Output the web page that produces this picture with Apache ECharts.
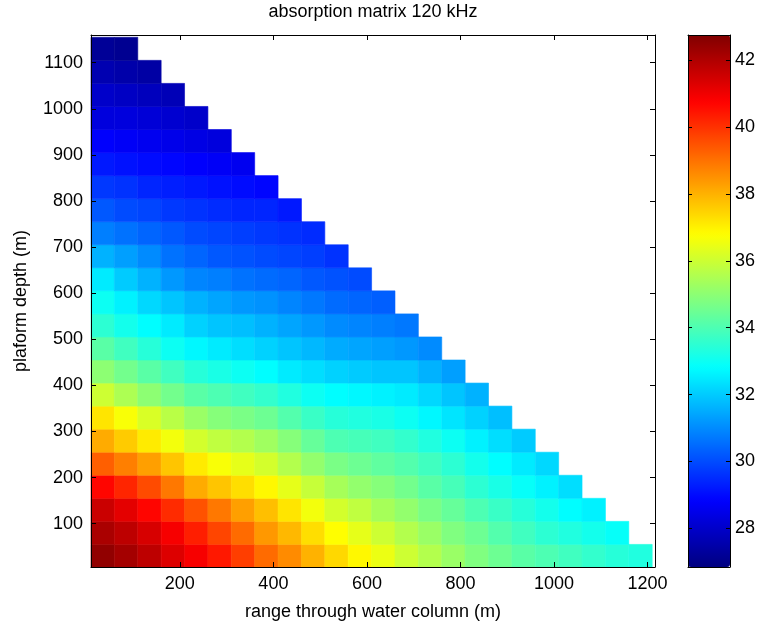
<!DOCTYPE html>
<html>
<head>
<meta charset="utf-8">
<script src="https://cdn.jsdelivr.net/npm/echarts@6/dist/echarts.min.js"></script>
<style>
  html, body { margin: 0; padding: 0; background: #fff; }
  #main { width: 758px; height: 627px; }
</style>
</head>
<body>
<div id="main"></div>
<script>
// cell centres (m)
const rangeCentres = [35, 85, 135, 185, 235, 285, 335, 385, 435, 485, 535, 585,
  635, 685, 735, 785, 835, 885, 935, 985, 1035, 1085, 1135, 1185];
const depthCentres = [30, 80, 130, 180, 230, 280, 330, 380, 430, 480, 530, 580,
  630, 680, 730, 780, 830, 880, 930, 980, 1030, 1080, 1130];

// absorption, one row per depth (shallow -> deep), starting at the first range cell
const absorption = [
  [42.5, 42.2, 41.8, 41.3, 40.9, 40.4, 39.8, 39.1, 38.6, 38.0, 37.4, 36.9, 36.5, 36.0, 35.6, 35.2, 34.8, 34.5, 34.2, 34.0, 33.8, 33.6, 33.4, 33.3],
  [42.1, 41.8, 41.4, 40.9, 40.3, 39.7, 39.1, 38.4, 37.9, 37.3, 36.8, 36.4, 36.0, 35.6, 35.2, 34.8, 34.5, 34.1, 33.8, 33.5, 33.3, 33.1, 32.9],
  [41.6, 41.2, 40.7, 40.1, 39.5, 38.9, 38.3, 37.8, 37.2, 36.6, 36.1, 35.8, 35.4, 35.1, 34.7, 34.4, 34.0, 33.7, 33.4, 33.1, 32.8, 32.6],
  [40.7, 40.2, 39.6, 38.9, 38.1, 37.7, 37.3, 36.9, 36.4, 35.9, 35.4, 35.1, 34.9, 34.6, 34.2, 33.9, 33.5, 33.2, 32.9, 32.6, 32.3],
  [39.3, 38.8, 38.3, 37.7, 37.1, 36.7, 36.4, 36.1, 35.6, 35.1, 34.7, 34.5, 34.3, 34.1, 33.8, 33.5, 33.1, 32.8, 32.5, 32.2],
  [38.1, 37.6, 37.1, 36.6, 36.1, 35.8, 35.6, 35.3, 34.9, 34.4, 34.0, 33.9, 33.8, 33.6, 33.3, 33.0, 32.6, 32.3, 32.0],
  [37.2, 36.7, 36.2, 35.7, 35.2, 34.9, 34.7, 34.5, 34.1, 33.7, 33.4, 33.3, 33.2, 33.0, 32.7, 32.4, 32.1, 31.8],
  [36.0, 35.5, 35.0, 34.6, 34.2, 34.0, 33.8, 33.6, 33.3, 33.0, 32.8, 32.7, 32.6, 32.5, 32.2, 31.9, 31.6],
  [35.0, 34.6, 34.2, 33.8, 33.4, 33.2, 33.0, 32.8, 32.5, 32.3, 32.1, 32.0, 31.9, 31.9, 31.6, 31.3],
  [34.2, 33.8, 33.4, 33.0, 32.7, 32.5, 32.3, 32.1, 31.9, 31.7, 31.5, 31.4, 31.3, 31.2, 31.0],
  [33.5, 33.1, 32.8, 32.5, 32.1, 31.9, 31.8, 31.6, 31.4, 31.2, 31.0, 30.9, 30.8, 30.7],
  [33.0, 32.6, 32.2, 31.9, 31.6, 31.4, 31.2, 31.1, 30.9, 30.7, 30.5, 30.4, 30.3],
  [32.5, 32.0, 31.6, 31.2, 30.9, 30.8, 30.6, 30.5, 30.4, 30.2, 30.1, 30.0],
  [31.6, 31.3, 31.0, 30.6, 30.4, 30.2, 30.1, 30.0, 29.9, 29.8, 29.6],
  [30.8, 30.6, 30.4, 30.2, 30.0, 29.9, 29.8, 29.7, 29.6, 29.5],
  [30.2, 30.0, 29.9, 29.7, 29.6, 29.5, 29.4, 29.4, 29.2],
  [29.7, 29.6, 29.4, 29.3, 29.2, 29.1, 29.0, 28.9],
  [29.2, 29.1, 29.0, 28.9, 28.8, 28.7, 28.6],
  [28.8, 28.7, 28.6, 28.5, 28.4, 28.3],
  [28.3, 28.3, 28.2, 28.1, 28.0],
  [28.0, 27.9, 27.8, 27.7],
  [27.6, 27.5, 27.4],
  [27.2, 27.1]
];

const xTicks = [200, 400, 600, 800, 1000, 1200];
const yTicks = [100, 200, 300, 400, 500, 600, 700, 800, 900, 1000, 1100];
const cbTicks = [28, 30, 32, 34, 36, 38, 40, 42];

const CELL = 50;
const jet = ['#000080', '#0000ff', '#0080ff', '#00ffff', '#80ff80', '#ffff00', '#ff8000', '#ff0000', '#800000'];
const font = 'Liberation Sans, Arial, Helvetica, sans-serif';

const cells = [];
absorption.forEach((row, i) => {
  row.forEach((v, j) => cells.push([rangeCentres[j], depthCentres[i], v]));
});

const chart = echarts.init(document.getElementById('main'));

const lbl = (ticks) => (v) => ticks.indexOf(Math.round(v * 100) / 100) >= 0 ? String(Math.round(v)) : '';
const line = { show: true, onZero: false, lineStyle: { color: '#000', width: 1 } };
const tickIn = (len) => ({ show: true, inside: true, length: len, lineStyle: { color: '#000' } });
const txt = { color: '#000', fontSize: 18, fontFamily: font };

const option = {
  animation: false,
  title: {
    text: 'absorption matrix 120 kHz',
    left: 373, top: 3, padding: 0, textAlign: 'center',
    textStyle: { color: '#000', fontSize: 18, fontWeight: 'normal', fontFamily: font }
  },
  grid: [
    { left: 91, top: 35, width: 564, height: 532 },
    { left: 688, top: 35, width: 42, height: 532 }
  ],
  xAxis: [
    {
      gridIndex: 0, type: 'value', position: 'bottom', min: 10, max: 1216, splitNumber: 6,
      axisLine: line, axisTick: tickIn(5), splitLine: { show: false },
      axisLabel: Object.assign({ margin: 8, formatter: lbl(xTicks) }, txt),
      name: 'range through water column (m)', nameLocation: 'middle', nameGap: 36,
      nameTextStyle: txt, z: 10
    },
    {
      gridIndex: 0, type: 'value', position: 'top', min: 10, max: 1216, splitNumber: 6,
      axisLine: line, axisTick: tickIn(5), splitLine: { show: false },
      axisLabel: { show: false }, z: 10
    },
    {
      gridIndex: 1, type: 'value', position: 'bottom', min: 0, max: 1,
      axisLine: line, axisTick: { show: false }, splitLine: { show: false },
      axisLabel: { show: false }, z: 10
    },
    {
      gridIndex: 1, type: 'value', position: 'top', min: 0, max: 1,
      axisLine: line, axisTick: { show: false }, splitLine: { show: false },
      axisLabel: { show: false }, z: 10
    }
  ],
  yAxis: [
    {
      gridIndex: 0, type: 'value', position: 'left', min: 6, max: 1160, splitNumber: 11,
      axisLine: line, axisTick: tickIn(5), splitLine: { show: false },
      axisLabel: Object.assign({ margin: 8, formatter: lbl(yTicks) }, txt),
      name: 'plaform depth (m)', nameLocation: 'middle', nameGap: 61, nameRotate: 90,
      nameTextStyle: txt, z: 10
    },
    {
      gridIndex: 0, type: 'value', position: 'right', min: 6, max: 1160, splitNumber: 11,
      axisLine: line, axisTick: tickIn(5), splitLine: { show: false },
      axisLabel: { show: false }, z: 10
    },
    {
      gridIndex: 1, type: 'value', position: 'right', min: 26.84, max: 42.76, splitNumber: 8,
      axisLine: line, axisTick: tickIn(4), splitLine: { show: false },
      axisLabel: Object.assign({ margin: 5, formatter: lbl(cbTicks) }, txt), z: 10
    },
    {
      gridIndex: 1, type: 'value', position: 'left', min: 26.84, max: 42.76, splitNumber: 8,
      axisLine: line, axisTick: tickIn(4), splitLine: { show: false },
      axisLabel: { show: false }, z: 10
    }
  ],
  visualMap: {
    type: 'continuous', seriesIndex: 0, dimension: 2,
    min: 26.84, max: 42.76,
    orient: 'vertical', left: 688, top: 35, padding: 0,
    itemWidth: 42, itemHeight: 532,
    calculable: false, hoverLink: false, text: null, showLabel: false,
    inRange: { color: jet }
  },
  series: [{
    type: 'custom',
    xAxisIndex: 0, yAxisIndex: 0,
    data: cells,
    encode: { x: 0, y: 1 },
    renderItem: function (params, api) {
      const x = api.value(0), y = api.value(1);
      const p0 = api.coord([x - CELL / 2, y + CELL / 2]);
      const p1 = api.coord([x + CELL / 2, y - CELL / 2]);
      const c = api.visual('color');
      return {
        type: 'rect',
        shape: { x: p0[0], y: p0[1], width: p1[0] - p0[0], height: p1[1] - p0[1] },
        style: { fill: c, stroke: c, lineWidth: 0.6 }
      };
    }
  }]
};

chart.setOption(option);
</script>
</body>
</html>
